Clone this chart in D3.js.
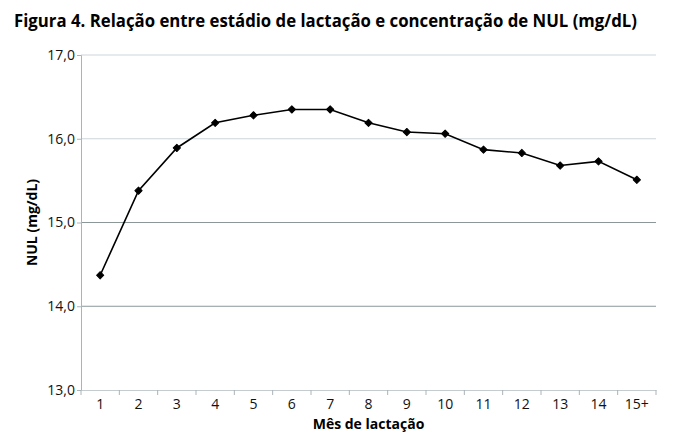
<!DOCTYPE html>
<html lang="pt">
<head>
<meta charset="utf-8">
<title>Figura 4</title>
<script src="https://cdn.jsdelivr.net/npm/d3@7"></script>
<style>
  body { margin: 0; background: #fff; }
  svg text { font-family: "Open Sans", "Noto Sans", sans-serif; }
</style>
</head>
<body>
<script>
// data
var months = ["1", "2", "3", "4", "5", "6", "7", "8", "9", "10", "11", "12", "13", "14", "15+"];
var nul = [14.37, 15.38, 15.89, 16.19, 16.28, 16.35, 16.35, 16.19, 16.08, 16.06, 15.87, 15.83, 15.68, 15.73, 15.51];
var yTicks = [13, 14, 15, 16, 17];

var w = 674, h = 443;
var m = { top: 55, right: 18, bottom: 53, left: 81 };

var svg = d3.select("body").append("svg")
  .attr("width", w)
  .attr("height", h);

// title
svg.append("text")
  .attr("x", 14)
  .attr("y", 27)
  .attr("font-size", "17px")
  .attr("font-weight", "bold")
  .attr("textLength", 623)
  .attr("lengthAdjust", "spacingAndGlyphs")
  .text("Figura 4. Relação entre estádio de lactação e concentração de NUL (mg/dL)");

var x = d3.scaleBand()
  .domain(months)
  .range([m.left, w - m.right]);

var y = d3.scaleLinear()
  .domain([13, 17])
  .range([h - m.bottom, m.top]);

// gridlines (upper ones lighter)
svg.selectAll("line.grid")
  .data(yTicks.slice(1))
  .enter()
  .append("line")
  .attr("class", "grid")
  .attr("x1", m.left)
  .attr("x2", w - m.right)
  .attr("y1", function(d) { return y(d); })
  .attr("y2", function(d) { return y(d); })
  .attr("stroke", function(d) { return d >= 16 ? "#cdd5d8" : "#8c9898"; })
  .attr("stroke-width", 1);

// y axis
var yAxis = svg.append("g")
  .attr("transform", "translate(" + m.left + ",0)")
  .call(d3.axisLeft(y)
    .tickValues(yTicks)
    .tickSize(4)
    .tickFormat(function(d) { return d3.format(".1f")(d).replace(".", ","); }));
yAxis.select(".domain").attr("stroke", "#aab4b8");
yAxis.selectAll(".tick line").attr("stroke", "#aab4b8");
yAxis.selectAll(".tick text")
  .attr("font-size", "14px")
  .attr("fill", "#111")
  .attr("x", -6)
  .attr("font-family", "Open Sans, sans-serif");

// x axis
var xAxis = svg.append("g")
  .attr("transform", "translate(0," + (h - m.bottom) + ")")
  .call(d3.axisBottom(x).tickSize(0).tickPadding(9));
xAxis.select(".domain").attr("stroke", "#c4ccd0");
xAxis.selectAll(".tick text")
  .attr("font-size", "14px")
  .attr("fill", "#111")
  .attr("font-family", "Open Sans, sans-serif");

// category boundary ticks
var bounds = months.map(function(d) { return x(d); }).concat([w - m.right]);
xAxis.selectAll("line.sep")
  .data(bounds)
  .enter()
  .append("line")
  .attr("class", "sep")
  .attr("x1", function(d) { return d; })
  .attr("x2", function(d) { return d; })
  .attr("y1", 0)
  .attr("y2", 5)
  .attr("stroke", "#aab4b8");

// axis titles
svg.append("text")
  .attr("transform", "translate(37," + ((m.top + h - m.bottom) / 2) + ") rotate(-90)")
  .attr("text-anchor", "middle")
  .attr("font-size", "14px")
  .attr("font-weight", "bold")
  .text("NUL (mg/dL)");

svg.append("text")
  .attr("x", (m.left + w - m.right) / 2)
  .attr("y", 429)
  .attr("text-anchor", "middle")
  .attr("font-size", "14px")
  .attr("font-weight", "bold")
  .text("Mês de lactação");

// line
var line = d3.line()
  .x(function(d, i) { return x(months[i]) + x.bandwidth() / 2; })
  .y(function(d) { return y(d); });

svg.append("path")
  .datum(nul)
  .attr("d", line)
  .attr("fill", "none")
  .attr("stroke", "#000")
  .attr("stroke-width", 1.6);

// markers: small rounded diamonds
svg.selectAll("path.pt")
  .data(nul)
  .enter()
  .append("path")
  .attr("class", "pt")
  .attr("d", d3.symbol().type(d3.symbolSquare).size(26))
  .attr("transform", function(d, i) {
    return "translate(" + (x(months[i]) + x.bandwidth() / 2) + "," + y(d) + ") rotate(45)";
  })
  .attr("fill", "#000")
  .attr("stroke", "#000")
  .attr("stroke-width", 1)
  .attr("stroke-linejoin", "round");
</script>
</body>
</html>
